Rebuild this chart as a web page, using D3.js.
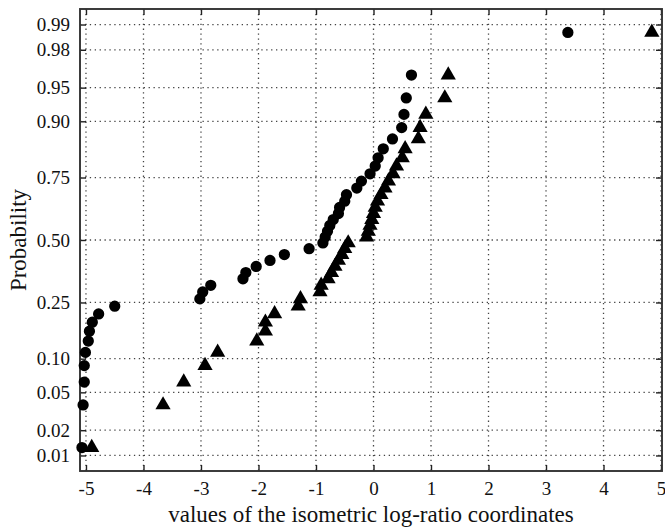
<!DOCTYPE html>
<html>
<head>
<meta charset="utf-8">
<script src="https://cdn.jsdelivr.net/npm/d3@7"></script>
<style>
  body { margin: 0; background: #fff; }
  svg { display: block; }
  text { font-family: "Liberation Serif", "DejaVu Serif", serif; fill: #111; }
</style>
</head>
<body>
<svg id="chart" width="665" height="528"></svg>
<script>
// tick labels
var xTicks = [-5, -4, -3, -2, -1, 0, 1, 2, 3, 4, 5];
var probTicks = [0.01, 0.02, 0.05, 0.10, 0.25, 0.50, 0.75, 0.90, 0.95, 0.98, 0.99];
var probLabels = ["0.01", "0.02", "0.05", "0.10", "0.25", "0.50", "0.75", "0.90", "0.95", "0.98", "0.99"];

// probability of each ranked point (same for both series)
var probs = [0.0125, 0.0375, 0.0625, 0.0875, 0.1125, 0.1375, 0.1625, 0.1875, 0.2125, 0.2375,
             0.2625, 0.2875, 0.3125, 0.3375, 0.3625, 0.3875, 0.4125, 0.4375, 0.4625, 0.4875,
             0.5125, 0.5375, 0.5625, 0.5875, 0.6125, 0.6375, 0.6625, 0.6875, 0.7125, 0.7375,
             0.7625, 0.7875, 0.8125, 0.8375, 0.8625, 0.8875, 0.9125, 0.9375, 0.9625, 0.9875];

// sorted values, circles
var circleVals = [-5.07, -5.05, -5.03, -5.03, -5.01, -4.96, -4.94, -4.89, -4.78, -4.50,
                  -3.02, -2.97, -2.83, -2.27, -2.22, -2.04, -1.80, -1.55, -1.12, -0.88,
                  -0.84, -0.80, -0.76, -0.70, -0.61, -0.59, -0.50, -0.47, -0.29, -0.21,
                  -0.06, 0.03, 0.08, 0.17, 0.33, 0.49, 0.53, 0.57, 0.66, 3.38];

// sorted values, triangles
var triangleVals = [-4.90, -3.66, -3.30, -2.93, -2.71, -2.03, -1.88, -1.88, -1.72, -1.31,
                    -1.27, -0.93, -0.91, -0.79, -0.73, -0.67, -0.61, -0.55, -0.50, -0.44,
                    -0.12, -0.09, -0.06, -0.03, 0.00, 0.03, 0.07, 0.13, 0.20, 0.26,
                    0.34, 0.40, 0.50, 0.55, 0.78, 0.81, 0.91, 1.24, 1.30, 4.84];

// inverse of the standard normal cdf (Acklam)
function normInv(p) {
  var a = [-39.69683028665376, 220.9460984245205, -275.9285104469687, 138.3577518672690, -30.66479806614716, 2.506628277459239];
  var b = [-54.47609879822406, 161.5858368580409, -155.6989798598866, 66.80131188771972, -13.28068155288572];
  var c = [-0.007784894002430293, -0.3223964580411365, -2.400758277161838, -2.549732539343734, 4.374664141464968, 2.938163982698783];
  var d = [0.007784695709041462, 0.3224671290700398, 2.445134137142996, 3.754408661907416];
  var pl = 0.02425, q, r;
  if (p < pl) {
    q = Math.sqrt(-2 * Math.log(p));
    return (((((c[0]*q+c[1])*q+c[2])*q+c[3])*q+c[4])*q+c[5]) / ((((d[0]*q+d[1])*q+d[2])*q+d[3])*q+1);
  }
  if (p > 1 - pl) {
    q = Math.sqrt(-2 * Math.log(1 - p));
    return -(((((c[0]*q+c[1])*q+c[2])*q+c[3])*q+c[4])*q+c[5]) / ((((d[0]*q+d[1])*q+d[2])*q+d[3])*q+1);
  }
  q = p - 0.5; r = q * q;
  return (((((a[0]*r+a[1])*r+a[2])*r+a[3])*r+a[4])*r+a[5])*q / (((((b[0]*r+b[1])*r+b[2])*r+b[3])*r+b[4])*r+1);
}

// plot box
var boxL = 80, boxR = 662, boxT = 9, boxB = 471;

var x = d3.scaleLinear().domain([-5.104, 5.017]).range([boxL, boxR]);
var z = d3.scaleLinear().domain([-2.494, 2.494]).range([boxB, boxT]);
var y = function(p) { return z(normInv(p)); };

var svg = d3.select("#chart");

// grid
var grid = svg.append("g")
  .attr("stroke", "#444")
  .attr("stroke-width", 1.3)
  .attr("stroke-dasharray", "1.3,3.6");

grid.selectAll(".gx")
  .data(xTicks)
  .enter().append("line")
    .attr("x1", function(d) { return x(d); })
    .attr("x2", function(d) { return x(d); })
    .attr("y1", boxT)
    .attr("y2", boxB);

grid.selectAll(".gy")
  .data(probTicks)
  .enter().append("line")
    .attr("x1", boxL)
    .attr("x2", boxR)
    .attr("y1", function(d) { return y(d); })
    .attr("y2", function(d) { return y(d); });

// axes, bottom/left with labels, top/right as mirrored ticks
var fontSize = "19px";
var zTicks = probTicks.map(normInv);

var xAxis = svg.append("g")
  .attr("transform", "translate(0," + boxB + ")")
  .call(d3.axisBottom(x).tickValues(xTicks).tickSize(-6).tickPadding(11)
    .tickFormat(function(d) { return d; }));

var xTop = svg.append("g")
  .attr("transform", "translate(0," + boxT + ")")
  .call(d3.axisTop(x).tickValues(xTicks).tickSize(-6).tickFormat(""));

var yAxis = svg.append("g")
  .attr("transform", "translate(" + boxL + ",0)")
  .call(d3.axisLeft(z).tickValues(zTicks).tickSize(-6).tickPadding(10)
    .tickFormat(function(d, i) { return probLabels[i]; }));

var yRight = svg.append("g")
  .attr("transform", "translate(" + boxR + ",0)")
  .call(d3.axisRight(z).tickValues(zTicks).tickSize(-6).tickFormat(""));

[xAxis, xTop, yAxis, yRight].forEach(function(g) {
  g.select(".domain").remove();
  g.selectAll(".tick line").attr("stroke", "#222").attr("stroke-width", 1.4);
  g.selectAll(".tick text")
    .style("font-family", "'Liberation Serif', serif")
    .style("font-size", fontSize)
    .attr("fill", "#111");
});

// frame
svg.append("rect")
  .attr("x", boxL)
  .attr("y", boxT)
  .attr("width", boxR - boxL)
  .attr("height", boxB - boxT)
  .attr("fill", "none")
  .attr("stroke", "#333")
  .attr("stroke-width", 1.9);

// points
var circles = circleVals.map(function(v, i) { return {v: v, p: probs[i]}; });
var triangles = triangleVals.map(function(v, i) { return {v: v, p: probs[i]}; });

svg.append("g").selectAll("path")
  .data(circles)
  .enter().append("path")
    .attr("d", d3.symbol().type(d3.symbolCircle).size(100))
    .attr("transform", function(d) { return "translate(" + x(d.v) + "," + y(d.p) + ")"; })
    .attr("fill", "#000");

svg.append("g").selectAll("path")
  .data(triangles)
  .enter().append("path")
    .attr("d", d3.symbol().type(d3.symbolTriangle).size(100))
    .attr("transform", function(d) { return "translate(" + x(d.v) + "," + y(d.p) + ")"; })
    .attr("fill", "#000");

// axis titles
svg.append("text")
  .attr("x", 371)
  .attr("y", 522)
  .attr("text-anchor", "middle")
  .style("font-size", "23px")
  .text("values of the isometric log-ratio coordinates");

svg.append("text")
  .attr("transform", "translate(26,240) rotate(-90)")
  .attr("text-anchor", "middle")
  .style("font-size", "23px")
  .text("Probability");
</script>
</body>
</html>
